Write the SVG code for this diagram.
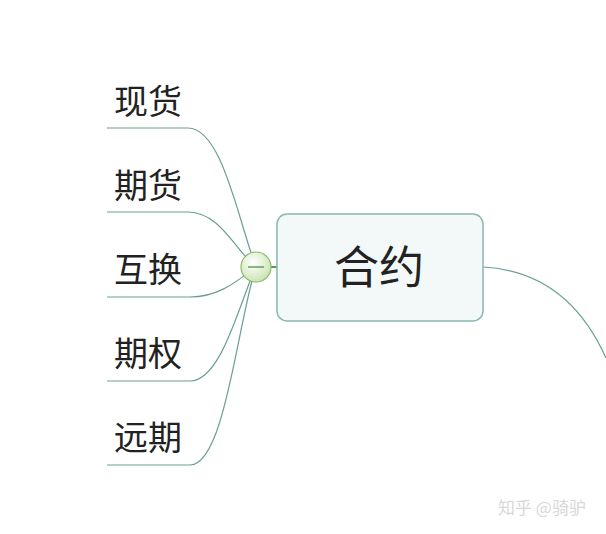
<svg xmlns="http://www.w3.org/2000/svg" width="606" height="534" viewBox="0 0 606 534">
<style>
.c{fill:none;stroke:#6a9e96;stroke-width:1.2}
.t{font-family:"Noto Sans CJK SC","Noto Sans CJK JP",sans-serif;fill:#222}
.leaf{font-size:34px}
</style>
<defs>
<radialGradient id="g" cx="0.4" cy="0.35" r="0.7">
<stop offset="0" stop-color="#ffffff"/>
<stop offset="1" stop-color="#c9e2b0"/>
</radialGradient>
</defs>
<rect width="606" height="534" fill="#fff"/>
<g id="connectors">
<path class="c" d="M107,128 H188 C222,128 238,220 256,267"/>
<path class="c" d="M107,212 H188 C220,212 235,250 256,267"/>
<path class="c" d="M107,297 H190 C220,297 238,280 256,267"/>
<path class="c" d="M107,381 H190 C222,381 240,300 256,267"/>
<path class="c" d="M107,465 H190 C225,465 238,320 256,267"/>
<path class="c" d="M483,267 C540,270 580,300 606,358"/>
<path d="M271,267 H277" stroke="#5a9a5a" stroke-width="2"/>
</g>
<g id="n-xianhuo"><text class="t leaf" x="114" y="114">现货</text></g>
<g id="n-qihuo"><text class="t leaf" x="114" y="198">期货</text></g>
<g id="n-huhuan"><text class="t leaf" x="114" y="282">互换</text></g>
<g id="n-qiquan"><text class="t leaf" x="114" y="366">期权</text></g>
<g id="n-yuanqi"><text class="t leaf" x="114" y="450">远期</text></g>
<g id="toggle">
<circle cx="256" cy="267" r="15" fill="url(#g)" stroke="#8ab86a" stroke-width="1.2"/>
<path d="M248,267 H264" stroke="#6a9e5a" stroke-width="1.5"/>
</g>
<g id="n-heyue">
<rect x="277" y="214" width="206" height="107" rx="10" fill="#f3f8f8" stroke="#8cb7b3" stroke-width="1.5"/>
<text class="t" x="379" y="284" font-size="45" text-anchor="middle">合约</text>
</g>
<text x="542" y="514" font-family="Noto Sans CJK SC,sans-serif" font-size="17" fill="#d8d8d8" text-anchor="middle">知乎 @骑驴</text>
</svg>
